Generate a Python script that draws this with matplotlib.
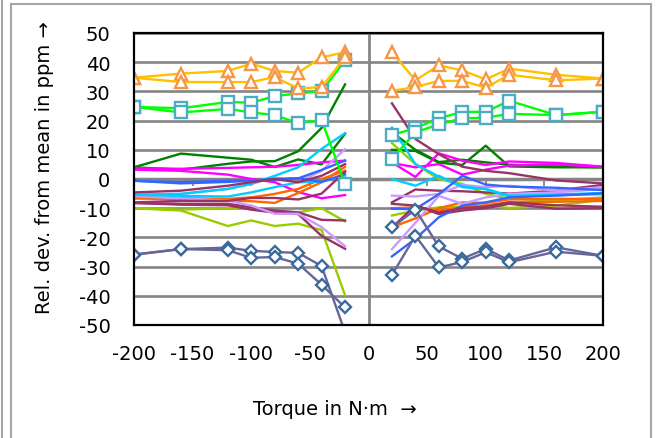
import matplotlib
matplotlib.use('Agg')
import matplotlib.pyplot as plt
from matplotlib.lines import Line2D

# ---------------- data ----------------
x_left = [-200, -160, -120, -100, -80, -60, -40, -20]
x_right = [20, 40, 60, 80, 100, 120, 160, 200]

x_ticks = [-200, -150, -100, -50, 0, 50, 100, 150, 200]
x_tick_labels = ['-200', '-150', '-100', '-50', '0', '50', '100', '150', '200']
y_ticks = [50, 40, 30, 20, 10, 0, -10, -20, -30, -40, -50]
y_tick_labels = ['50', '40', '30', '20', '10', '0', '-10', '-20', '-30', '-40', '-50']
zero_ticks = [-150, -100, -50, 50, 100, 150]

# plain line series
dg1_left = [4.0, 8.7, 7.3, 6.6, 4.1, 6.7, 5.0, 15.5]
dg2_left = [4.0, 3.2, 5.2, 6.0, 6.1, 9.5, 17.5, 32.4]
dg1_right = [10.0, 9.6, 5.6, 4.8, 11.4, 4.3, 4.0, 4.0]
dg2_right = [16.0, 10.0, 5.8, 6.6, 5.7, 4.9, 4.3, 4.0]

mg1_left = [3.7, 3.5, 3.8, 4.0, 4.2, 4.8, 5.7, 6.3]
mg2_left = [3.2, 2.8, 1.5, 0.0, -1.1, -4.5, -6.6, -5.5]
mg1_right = [5.7, 0.7, 8.8, 6.3, 4.8, 6.0, 5.5, 4.2]
mg2_right = [5.5, 4.0, 5.1, 1.5, 3.2, 4.6, 5.0, 4.2]

bl1_left = [-0.6, -1.1, -0.6, -0.5, -0.3, 0.2, 3.1, 6.3]
bl2_left = [-0.6, -1.5, -1.0, -0.6, 0.0, 0.3, -1.0, 1.7]
bl1_right = [-10.2, -10.3, -5.2, 1.1, -1.9, -2.6, -3.0, -3.8]
bl2_right = [-26.5, -20.5, -13.1, -9.1, -8.0, -6.3, -5.7, -4.9]

cy1_left = [-5.4, -5.1, -3.4, -1.7, 1.1, 4.0, 10.3, 15.7]
cy2_left = [-5.4, -5.8, -6.0, -4.6, -2.8, -1.1, -0.9, 1.2]
cy1_right = [17.6, 5.1, 0.8, -2.5, -3.5, -6.0, -5.3, -4.8]
cy2_right = [0.0, -2.3, 1.1, -2.8, -3.4, -5.7, -5.5, -5.2]

or1_left = [-6.6, -7.0, -7.4, -7.6, -8.2, -4.8, -1.1, 4.2]
or2_left = [-6.6, -6.6, -6.8, -6.3, -5.1, -3.4, 0.0, 2.8]
or1_right = [-16.5, -13.5, -10.0, -8.0, -8.2, -7.0, -6.8, -6.8]
or2_right = [-10.0, -9.7, -10.8, -9.7, -9.0, -8.0, -7.8, -7.5]

mr1_left = [-4.6, -4.0, -2.3, -1.1, 0.0, -1.1, 1.1, 5.1]
mr2_left = [-8.2, -8.5, -8.5, -9.7, -10.8, -11.4, -14.0, -14.2]
mr3_left = [-8.2, -8.8, -9.0, -10.5, -11.5, -12.0, -19.5, -23.9]
mr4_left = [-8.0, -7.5, -7.5, -6.5, -6.5, -7.0, -5.0, 2.5]
mr1_right = [25.9, 13.7, 8.5, 4.2, 2.8, 2.0, -0.5, -1.5]
mr2_right = [-8.0, -3.6, -4.0, -4.2, -4.6, -5.0, -4.0, -2.0]
mr3_right = [-8.5, -9.1, -12.0, -10.8, -10.0, -8.5, -10.2, -10.0]
mr4_right = [-16.6, -9.1, -11.5, -10.0, -9.5, -8.0, -9.0, -9.5]

yg1_left = [-10.0, -10.8, -16.1, -14.2, -16.1, -15.3, -17.5, -39.8]
yg2_left = [-10.0, -10.5, -10.0, -10.2, -11.4, -11.4, -10.0, -14.5]
yg1_right = [12.3, 5.1, 0.0, -1.7, -5.1, -6.8, -7.4, -6.3]
yg2_right = [-12.5, -10.8, -9.7, -9.5, -9.1, -9.9, -9.1, -7.1]

lv1_left = [-5.9, -6.6, -7.4, -9.1, -11.9, -11.9, -16.5, -23.0]
lv2_left = [-5.4, -5.1, -3.4, -1.7, 0.6, -1.1, 2.8, 10.2]
lv1_right = [-5.7, -6.0, -5.1, -2.0, -2.8, -2.3, -4.0, -2.8]
lv2_right = [-24.0, -15.0, -5.8, -8.5, -6.3, -5.1, -4.6, -3.4]

# marker series
tri1_left = [34.7, 36.1, 37.0, 39.5, 37.0, 36.4, 41.7, 43.4]
tri2_left = [34.7, 33.2, 33.2, 33.2, 34.9, 31.0, 31.5, 41.7]
tri1_right = [43.4, 33.8, 38.9, 37.2, 34.1, 37.8, 35.7, 34.4]
tri2_right = [30.2, 31.5, 33.6, 33.6, 31.3, 35.7, 33.8, 34.4]

sq1_left = [24.7, 24.2, 26.4, 26.1, 28.4, 29.3, 30.1, 40.6]
sq2_left = [24.7, 22.8, 24.0, 22.8, 21.9, 19.1, 20.2, -1.8]
sq1_right = [15.1, 17.4, 20.8, 23.0, 23.0, 26.8, 21.9, 23.0]
sq2_right = [6.9, 16.0, 18.7, 20.8, 21.0, 22.3, 21.9, 23.0]

dia1_left = [-25.9, -24.0, -23.5, -24.6, -25.0, -25.3, -29.8, -52.5]
dia2_left = [-25.9, -24.0, -24.4, -27.0, -26.7, -29.0, -36.2, -44.0]
dia1_right = [-16.6, -10.5, -23.1, -27.3, -23.9, -27.9, -23.4, -26.3]
dia2_right = [-32.9, -19.4, -30.3, -28.4, -25.1, -28.5, -24.9, -26.3]

# ---------------- styles ----------------
plain = [
    (dg1_left, dg1_right, '#008000'), (dg2_left, dg2_right, '#008000'),
    (mg1_left, mg1_right, '#FF00FF'), (mg2_left, mg2_right, '#FF00FF'),
    (yg1_left, yg1_right, '#99CC00'), (yg2_left, yg2_right, '#99CC00'),
    (or1_left, or1_right, '#FF6600'), (or2_left, or2_right, '#FF6600'),
    (mr2_left, mr2_right, '#993366'), (mr3_left, mr3_right, '#993366'),
    (lv1_left, lv1_right, '#CC99FF'), (lv2_left, lv2_right, '#CC99FF'),
    (cy1_left, cy1_right, '#00CCFF'), (cy2_left, cy2_right, '#00CCFF'),
    (bl1_left, bl1_right, '#3366FF'), (bl2_left, bl2_right, '#3366FF'),
    (mr1_left, mr1_right, '#993366'), (mr4_left, mr4_right, '#993366'),
]
marked = [
    (dia1_left, dia1_right, '#66669A', 'D', '#3A6A9C', 6),
    (dia2_left, dia2_right, '#66669A', 'D', '#3A6A9C', 6),
    (sq1_left, sq1_right, '#00FF00', 's', '#4BACC6', 8.5),
    (sq2_left, sq2_right, '#00FF00', 's', '#4BACC6', 8.5),
    (tri1_left, tri1_right, '#FFC000', '^', '#F79646', 9),
    (tri2_left, tri2_right, '#FFC000', '^', '#F79646', 9),
]

plt.rcParams['font.family'] = ['DejaVu Sans']

fig = plt.figure(figsize=(6.56, 4.39), dpi=100)
W, H = 656, 439
ax = fig.add_axes([134 / W, 1 - 326 / H, (603 - 134) / W, (326 - 34) / H])

grid_c = '#858585'
for y in y_ticks:
    ax.axhline(y, color=grid_c, lw=1.9, zorder=1)
ax.axhline(0, color=grid_c, lw=2.5, zorder=1.2)
ax.axvline(0, color=grid_c, lw=2.0, zorder=1.2)
ax.plot(zero_ticks, [0] * len(zero_ticks), ls='none', marker=3, ms=5,
        mew=1.3, color=grid_c, zorder=1.2)

for left, right, c in plain:
    for xs, ys in ((x_left, left), (x_right, right)):
        ax.plot(xs, ys, color=c, lw=1.7, zorder=2)

for left, right, c, m, mec, ms in marked:
    for xs, ys in ((x_left, left), (x_right, right)):
        ax.plot(xs, ys, color=c, lw=1.7, marker=m, ms=ms, mfc='white',
                mec=mec, mew=1.7, zorder=3)

ax.set_xlim(-200, 200)
ax.set_ylim(-50, 50)
ax.set_xticks(x_ticks)
ax.set_xticklabels(x_tick_labels)
ax.set_yticks(y_ticks)
ax.set_yticklabels(y_tick_labels)
ax.tick_params(axis='both', length=0, labelsize=14, colors='black')
ax.tick_params(axis='y', pad=17)
ax.tick_params(axis='x', pad=14)
for s in ax.spines.values():
    s.set_color('black')
    s.set_linewidth(1.6)
    s.set_zorder(4)

fig.text(45 / W, 1 - 168 / H, 'Rel. dev. from mean in ppm \u2192', rotation=90,
         ha='center', va='center', fontsize=14)
fig.text(335 / W, 1 - 410 / H, 'Torque in N\u00b7m  \u2192', ha='center',
         va='center', fontsize=14)

# chart-area frame
bc = '#a6a6a6'
fig.add_artist(Line2D([11 / W, 11 / W], [0, 1 - 5 / H], color=bc, lw=1.5))
fig.add_artist(Line2D([11 / W, 651 / W], [1 - 5 / H, 1 - 5 / H], color=bc, lw=1.5))
fig.add_artist(Line2D([651 / W, 651 / W], [0, 1 - 5 / H], color=bc, lw=1.5))
fig.add_artist(Line2D([2 / W, 2 / W], [0, 1], color=bc, lw=1.5))

fig.savefig('out.png', dpi=100)
